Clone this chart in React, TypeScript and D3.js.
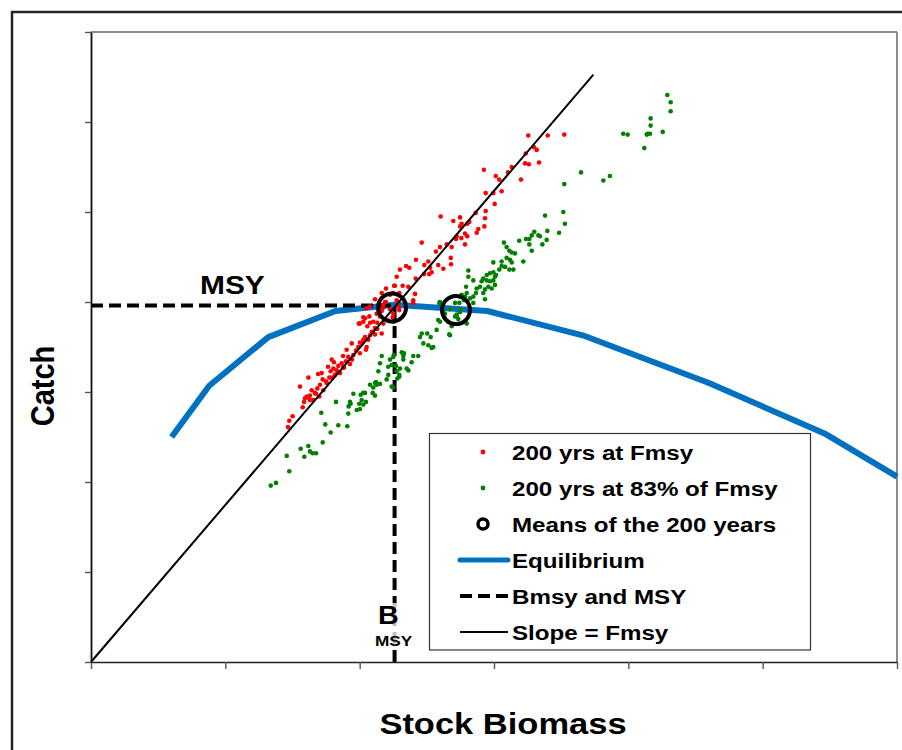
import React, { useEffect, useRef } from "react";
import * as d3 from "d3";

const WIDTH = 902;
const HEIGHT = 750;

// Axis ticks (labels are hidden on both axes)
const biomassTicks = [0, 100, 200, 300, 400, 500, 600];
const catchTicks = [0, 10, 20, 30, 40, 50, 60, 70];

// Equilibrium yield curve
const equilibriumBiomass = [60, 88, 132, 182, 226, 295, 366, 460, 546, 600];
const equilibriumCatch = [25.0, 30.7, 36.1, 39.0, 39.7, 39.0, 36.3, 31.0, 25.4, 20.6];

// Reference points
const BMSY = 226;
const MSY = 39.6;
const FMSY = 0.1745;
const slopeEndBiomass = 374;

// 200 years fished at Fmsy: [biomass, catch]
const fmsyRuns: [number, number][] = [
  [150.1, 27.3], [147.6, 26.8], [146.6, 26.1], [157.6, 28.3], [158.6, 28.9], [155.6, 30.6],
  [161.8, 29.4], [163.0, 29.6], [161.8, 31.6], [164.3, 30.2], [165.5, 29.1], [167.5, 29.8],
  [168.5, 30.4], [170.5, 30.8], [172.5, 31.4], [169.9, 29.5], [172.9, 30.2], [175.5, 31.0],
  [177.4, 31.6], [179.2, 33.6], [178.4, 32.3], [180.4, 32.6], [181.6, 31.9], [182.9, 32.4],
  [184.1, 32.9], [185.4, 32.1], [186.6, 33.2], [187.8, 32.8], [189.8, 33.4], [191.5, 33.9],
  [192.8, 33.1], [190.3, 34.7], [194.1, 35.4], [195.3, 34.1], [197.3, 34.6], [199.0, 35.0],
  [200.2, 34.3], [201.5, 35.4], [202.7, 35.8], [204.7, 34.7], [206.4, 35.8], [207.7, 36.3],
  [200.2, 37.6], [202.7, 37.8], [205.7, 37.3], [207.2, 38.4], [209.0, 36.7], [211.4, 37.1],
  [213.1, 37.7], [215.1, 38.4], [216.4, 39.0], [217.6, 39.7], [219.6, 40.0], [222.6, 39.2],
  [225.0, 38.7], [227.6, 40.2], [228.8, 39.5], [220.6, 38.0], [225.0, 37.8], [216.4, 41.0],
  [222.6, 40.8], [207.7, 39.5], [159.3, 29.3], [171.7, 32.1], [212.7, 38.7], [216.4, 36.5],
  [204.0, 38.2], [210.1, 37.8], [211.4, 40.3], [219.6, 41.5], [226.3, 41.8], [228.8, 40.0],
  [217.1, 39.3], [205.2, 39.3], [202.7, 38.3], [199.3, 37.6], [207.7, 37.7], [213.1, 37.0],
  [217.6, 37.6], [224.6, 38.3], [229.5, 39.1], [204.0, 36.1], [211.4, 36.4], [200.2, 35.5],
  [205.2, 35.0], [160.5, 29.5], [163.0, 29.1], [166.7, 29.9], [174.9, 31.2], [179.4, 31.6],
  [183.9, 32.2], [188.3, 32.7], [194.3, 33.6], [187.6, 34.0], [180.9, 33.3], [169.0, 32.0],
  [176.4, 32.8],
  [325.5, 58.5], [340.0, 58.5], [352.3, 58.6], [329.8, 57.2], [331.8, 56.9], [323.6, 56.5],
  [323.1, 55.4], [326.0, 55.3], [333.5, 55.5], [313.2, 55.0], [310.4, 54.4], [292.5, 54.7],
  [301.3, 54.0], [303.9, 53.6], [320.1, 53.6], [299.5, 52.1], [293.8, 52.1], [305.7, 52.3],
  [300.5, 50.9], [293.8, 50.1], [286.4, 49.9], [293.3, 49.3], [292.8, 48.4], [288.3, 48.1],
  [287.1, 47.7], [281.6, 48.9], [280.1, 48.7], [274.7, 49.4], [275.9, 48.7], [269.7, 49.0],
  [260.3, 49.5], [274.7, 48.4], [278.4, 47.6], [271.7, 47.0], [272.2, 47.3], [275.7, 47.1],
  [280.1, 47.3], [278.4, 46.4], [268.5, 46.1], [264.8, 46.4], [259.8, 46.1], [256.8, 45.6],
  [246.2, 46.6], [241.9, 44.7], [251.1, 44.5], [258.5, 44.1], [262.3, 43.7], [267.8, 44.9],
  [268.0, 44.2], [252.4, 43.8], [248.1, 44.1], [234.5, 44.0], [230.0, 43.6], [236.9, 43.8],
  [227.6, 42.8], [241.7, 42.6], [247.9, 43.1], [251.8, 43.1], [253.6, 43.3], [225.6, 41.8],
  [232.0, 41.8], [236.2, 41.7], [241.2, 40.9], [229.5, 41.0], [225.0, 41.0], [239.9, 40.2],
  [239.9, 39.9], [218.9, 40.0],
];

// 200 years fished at 83% of Fmsy: [biomass, catch]
const reducedFRuns: [number, number][] = [
  [133.8, 19.6], [137.7, 19.9], [147.6, 21.2], [145.7, 22.9], [156.1, 23.7], [158.8, 22.8],
  [161.8, 24.0], [163.0, 23.4], [165.0, 23.2], [167.5, 23.2], [172.5, 24.4], [178.4, 25.5],
  [174.4, 26.4], [184.1, 26.3], [190.8, 26.2], [182.4, 28.9], [171.4, 27.7], [191.8, 28.4],
  [191.5, 27.6], [193.3, 28.7], [195.3, 29.8], [200.2, 28.1], [199.7, 28.7], [201.5, 29.1],
  [202.7, 28.6], [204.7, 28.9], [200.8, 29.7], [204.0, 29.9], [207.7, 30.8], [209.7, 29.9],
  [211.4, 29.6], [212.7, 30.8], [212.2, 31.1], [215.1, 30.9], [210.1, 30.5], [220.1, 31.4],
  [221.3, 31.9], [225.0, 30.5], [227.6, 32.3], [229.5, 31.9], [228.0, 31.5], [230.0, 32.6],
  [232.5, 33.6], [221.3, 32.8], [223.8, 33.0], [227.0, 32.9], [225.0, 33.9], [215.1, 33.2],
  [216.4, 34.0], [225.6, 34.1], [231.3, 34.4], [232.5, 34.0], [236.2, 32.4], [238.7, 33.3],
  [239.9, 34.0], [243.6, 34.0], [244.9, 36.1], [246.2, 36.5], [247.4, 35.4], [250.3, 36.5],
  [252.9, 36.1], [251.1, 35.2], [253.6, 34.9], [254.8, 35.0], [257.3, 36.9], [266.7, 36.4],
  [259.8, 37.8], [263.5, 38.2], [274.7, 38.9], [272.2, 38.4], [259.8, 40.0], [258.5, 38.0],
  [263.5, 38.7], [267.2, 36.3], [233.0, 34.3], [222.6, 33.6], [235.0, 32.6], [229.5, 31.7],
  [213.9, 32.3], [223.8, 30.6], [211.4, 31.0], [202.7, 29.9], [197.8, 28.0], [192.8, 28.9],
  [429.0, 63.0], [431.5, 62.2], [431.5, 61.2], [416.6, 60.4], [416.6, 59.6], [414.4, 58.7],
  [416.1, 58.7], [413.7, 58.6], [425.6, 58.9], [396.2, 58.7], [399.5, 58.6], [411.9, 57.1],
  [364.8, 54.4], [381.4, 53.5], [386.3, 54.0], [352.3, 53.1], [338.0, 49.6], [351.6, 50.0],
  [352.8, 48.7], [348.4, 47.7], [339.7, 47.9], [339.2, 46.9], [336.0, 46.4], [334.2, 47.3],
  [333.0, 47.4], [330.0, 47.8], [328.1, 47.4], [326.3, 47.0], [323.8, 47.0], [326.3, 46.4],
  [328.1, 45.7], [318.8, 46.8], [321.8, 44.5], [307.4, 46.6], [309.4, 46.1], [311.4, 45.7],
  [313.2, 45.5], [315.6, 45.4], [309.4, 44.9], [311.9, 44.7], [313.2, 44.4], [314.4, 43.6],
  [311.4, 43.6], [308.2, 43.9], [305.7, 44.5], [305.7, 44.0], [303.9, 43.6], [299.5, 44.4],
  [299.5, 43.3], [301.5, 43.0], [297.0, 43.2], [294.6, 43.0], [292.0, 42.6], [290.8, 42.3],
  [294.6, 42.4], [297.0, 42.3], [299.5, 42.4], [300.7, 42.8], [295.8, 41.7], [298.3, 41.5],
  [300.7, 41.9], [293.3, 41.4], [289.6, 41.7], [287.1, 41.5], [286.6, 41.0], [284.6, 40.6],
  [292.0, 41.0], [293.3, 40.3], [284.6, 39.9], [280.9, 43.5], [280.9, 42.8], [284.6, 42.4],
  [279.2, 41.7], [279.7, 41.0], [278.4, 40.6], [275.9, 40.8], [277.7, 40.2], [282.1, 40.4],
  [274.2, 39.9], [271.0, 39.9], [267.2, 39.2], [274.7, 39.1], [272.2, 38.6], [271.0, 38.4],
  [273.4, 38.1], [279.7, 37.6], [268.5, 37.3], [266.0, 37.8], [262.3, 39.1], [259.3, 39.9],
];

// Means of the two 200-year runs
const runMeans: [number, number][] = [
  [224.1, 39.4],
  [271.7, 39.1],
];

const legendLabels = [
  "200 yrs at Fmsy",
  "200 yrs at 83% of Fmsy",
  "Means of the 200 years",
  "Equilibrium",
  "Bmsy and MSY",
  "Slope = Fmsy",
];

const FONT = "'Liberation Sans', Arial, Helvetica, sans-serif";
const RED = "#ff0000";
const GREEN = "#008000";
const BLUE = "#0070c0";
// the labels use a slightly wide setting of the bold face
const TEXT_STRETCH = 1.15;

function Label({
  x,
  y,
  size,
  anchor = "start",
  rotate = 0,
  stretch = TEXT_STRETCH,
  children,
}: {
  x: number;
  y: number;
  size: number;
  anchor?: "start" | "middle" | "end";
  rotate?: number;
  stretch?: number;
  children: React.ReactNode;
}) {
  return (
    <g transform={`translate(${x},${y}) scale(${stretch},1) rotate(${rotate})`}>
      <text x={0} y={0} textAnchor={anchor} fontSize={size} fontWeight="bold" fill="#000">
        {children}
      </text>
    </g>
  );
}

export default function App() {
  const xAxisRef = useRef<SVGGElement>(null);
  const yAxisRef = useRef<SVGGElement>(null);

  const x = d3.scaleLinear().domain([0, 600]).range([91, 897]);
  const y = d3.scaleLinear().domain([0, 70]).range([662, 32]);

  useEffect(() => {
    const xAxis = d3
      .axisBottom(x)
      .tickValues(biomassTicks)
      .tickFormat(() => "")
      .tickSizeInner(7)
      .tickSizeOuter(0);
    const yAxis = d3
      .axisLeft(y)
      .tickValues(catchTicks)
      .tickFormat(() => "")
      .tickSizeInner(6)
      .tickSizeOuter(0);
    const gx = d3.select(xAxisRef.current!).call(xAxis);
    gx.select(".domain").attr("stroke", "#222").attr("stroke-width", 1.6);
    gx.selectAll(".tick line").attr("stroke", "#555").attr("stroke-width", 1.4);
    const gy = d3.select(yAxisRef.current!).call(yAxis);
    gy.select(".domain").attr("stroke", "#111").attr("stroke-width", 1.8);
    gy.selectAll(".tick line").attr("stroke", "#555").attr("stroke-width", 1.4);
  }, []);

  const line = d3
    .line<[number, number]>()
    .x((d) => x(d[0]))
    .y((d) => y(d[1]));

  const equilibrium: [number, number][] = equilibriumBiomass.map((b, i) => [b, equilibriumCatch[i]]);
  const slope: [number, number][] = [
    [0, 0],
    [slopeEndBiomass, slopeEndBiomass * FMSY],
  ];
  const msyGuide: [number, number][] = [
    [0, MSY],
    [BMSY, MSY],
    [BMSY, 0],
  ];

  // Legend layout
  const lgX = 429.5;
  const lgY = 433.5;
  const lgW = 381;
  const lgH = 216.5;
  const rowY = (i: number) => 452 + i * 36;
  const markX = 483;
  const textX = 512;

  return (
    <svg
      width={WIDTH}
      height={HEIGHT}
      style={{ position: "absolute", left: 0, top: 0, display: "block", background: "#fff" }}
      fontFamily={FONT}
    >
      <rect x={0} y={0} width={WIDTH} height={HEIGHT} fill="#fff" />
      {/* outer frame */}
      <rect x={12} y={12} width={1000} height={1000} fill="none" stroke="#262626" strokeWidth={2.5} />

      {/* plot-area border */}
      <line x1={x(0)} x2={x(600)} y1={y(70)} y2={y(70)} stroke="#8c8c8c" strokeWidth={1.8} />
      <line x1={x(600)} x2={x(600)} y1={y(70)} y2={y(0)} stroke="#8c8c8c" strokeWidth={2} />

      {/* equilibrium curve */}
      <path d={line(equilibrium)!} fill="none" stroke={BLUE} strokeWidth={6} strokeLinejoin="round" />

      {/* Bmsy / MSY guide */}
      <path d={line(msyGuide)!} fill="none" stroke="#000" strokeWidth={4} strokeDasharray="12 6" />

      {/* yearly points */}
      {fmsyRuns.map((d, i) => (
        <circle key={`r${i}`} cx={x(d[0])} cy={y(d[1])} r={2.3} fill={RED} />
      ))}
      {reducedFRuns.map((d, i) => (
        <circle key={`g${i}`} cx={x(d[0])} cy={y(d[1])} r={2.3} fill={GREEN} />
      ))}

      {/* slope = Fmsy */}
      <path d={line(slope)!} fill="none" stroke="#000" strokeWidth={2} />

      {/* means */}
      {runMeans.map((d, i) => (
        <circle key={`m${i}`} cx={x(d[0])} cy={y(d[1])} r={14} fill="none" stroke="#000" strokeWidth={4} />
      ))}

      {/* axes */}
      <g ref={xAxisRef} transform={`translate(0,${y(0)})`} />
      <g ref={yAxisRef} transform={`translate(${x(0)},0)`} />

      {/* MSY annotation */}
      <Label x={200} y={294} size={26}>
        MSY
      </Label>

      {/* axis titles */}
      <Label x={54} y={386} size={29} anchor="middle" rotate={-90}>
        Catch
      </Label>
      <Label x={503} y={734} size={30} anchor="middle">
        Stock Biomass
      </Label>

      {/* legend */}
      <rect x={lgX} y={lgY} width={lgW} height={lgH} fill="#fff" stroke="#333" strokeWidth={1.2} />
      <circle cx={markX} cy={rowY(0)} r={2.4} fill={RED} />
      <circle cx={markX} cy={rowY(1)} r={2.4} fill={GREEN} />
      <circle cx={markX} cy={rowY(2)} r={5} fill="none" stroke="#000" strokeWidth={3.5} />
      <line x1={460} x2={508} y1={rowY(3)} y2={rowY(3)} stroke={BLUE} strokeWidth={5} strokeLinecap="round" />
      <line x1={460} x2={508} y1={rowY(4)} y2={rowY(4)} stroke="#000" strokeWidth={4} strokeDasharray="12 6" />
      <line x1={460} x2={508} y1={rowY(5)} y2={rowY(5)} stroke="#000" strokeWidth={2} />
      {legendLabels.map((t, i) => (
        <Label key={t} x={textX} y={rowY(i) + 7.5} size={21}>
          {t}
        </Label>
      ))}

      {/* Bmsy annotation on a translucent backdrop */}
      <rect x={x(BMSY) - 4} y={603} width={8} height={46} fill="#fff" opacity={0.75} />
      <Label x={378} y={624} size={25}>
        B
      </Label>
      <Label x={375} y={646} size={15}>
        MSY
      </Label>
    </svg>
  );
}
